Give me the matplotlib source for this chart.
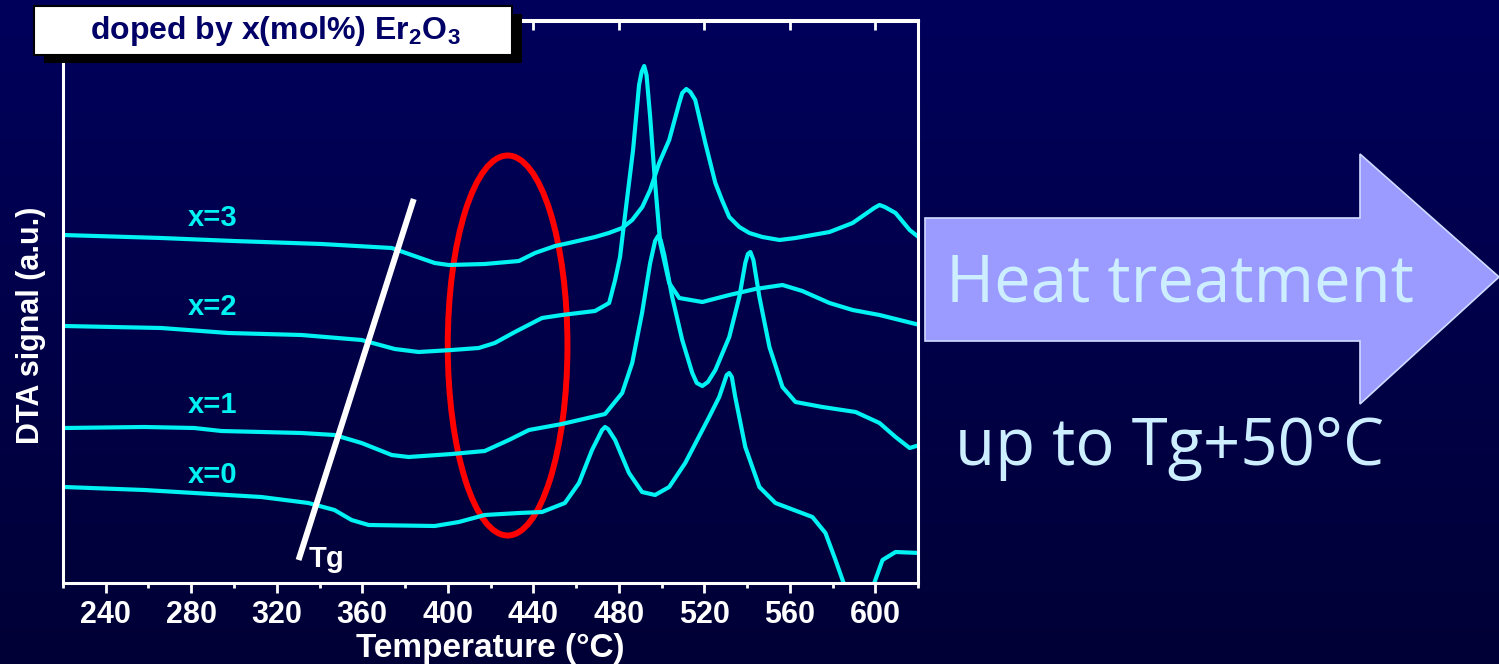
import numpy as np
import matplotlib.pyplot as plt
from matplotlib.patches import Ellipse, Polygon, Rectangle
from matplotlib.ticker import MultipleLocator

plt.rcParams["font.family"] = ["Liberation Sans", "DejaVu Sans"]
plt.rcParams["mathtext.fontset"] = "custom"
plt.rcParams["mathtext.rm"] = "Liberation Sans:bold"
plt.rcParams["mathtext.default"] = "rm"

# DTA traces: temperature (°C) vs signal (a.u., traces offset vertically)
temp_x0 = [220.5, 258.0, 281.4, 312.8, 334.8, 347.0, 355.0, 363.0, 393.9, 405.2,
           417.3, 433.3, 444.1, 454.8, 461.4, 467.5, 472.2, 473.6, 475.0, 478.3,
           484.8, 490.9, 497.0, 503.6, 511.1, 522.3, 527.0, 530.5, 531.7, 532.9,
           534.5, 539.2, 545.8, 553.3, 570.6, 576.7, 581.4, 584.7, 592.0, 599.7,
           603.4, 609.5, 620.8]
dta_x0 = [9.6, 9.3, 9.0, 8.6, 8.0, 7.3, 6.3, 5.8, 5.7, 6.1,
          6.8, 7.0, 7.1, 8.0, 10.0, 13.3, 15.3, 15.6, 15.4, 14.3,
          11.0, 9.1, 8.8, 9.6, 12.0, 16.6, 18.6, 20.8, 21.0, 20.6,
          18.6, 13.6, 9.6, 8.0, 6.6, 5.0, 2.3, 0.3, -4.0, 0.1,
          2.3, 3.1, 3.0]

temp_x1 = [220.5, 258.0, 281.4, 294.1, 331.6, 347.0, 359.7, 373.8, 381.7, 401.9,
           417.3, 428.6, 438.0, 453.4, 473.6, 481.6, 486.3, 490.9, 494.7, 497.0,
           498.4, 499.6, 501.3, 505.0, 509.7, 514.4, 516.5, 519.1, 521.7, 525.2,
           531.7, 536.4, 539.2, 540.4, 541.6, 543.0, 545.8, 550.5, 556.6, 562.7,
           575.3, 590.8, 602.0, 609.5, 616.1, 620.8]
dta_x1 = [15.5, 15.6, 15.5, 15.2, 15.0, 14.8, 14.0, 12.8, 12.6, 12.9,
          13.2, 14.3, 15.3, 15.9, 16.9, 19.0, 22.0, 27.0, 32.0, 34.2,
          34.7, 34.3, 32.8, 28.6, 24.3, 21.0, 20.0, 19.7, 20.1, 21.3,
          24.6, 28.6, 32.0, 32.9, 33.1, 32.3, 28.6, 23.6, 19.6, 18.1,
          17.6, 17.1, 16.0, 14.6, 13.5, 13.8]

temp_x2 = [220.5, 265.9, 297.3, 331.6, 359.7, 375.2, 386.4, 401.9, 414.5, 422.0,
           431.4, 444.1, 453.4, 468.9, 475.5, 478.3, 480.6, 482.5, 484.8, 486.7,
           489.5, 490.7, 491.9, 493.0, 494.7, 497.0, 499.4, 503.6, 508.3, 519.1,
           531.7, 543.9, 556.6, 565.9, 578.6, 589.4, 602.0, 620.8]
dta_x2 = [25.7, 25.5, 25.0, 24.8, 24.3, 23.4, 23.1, 23.3, 23.5, 24.0,
          25.1, 26.5, 26.8, 27.2, 28.0, 30.3, 32.6, 36.0, 40.0, 43.3,
          49.8, 51.1, 51.7, 50.8, 46.6, 40.0, 34.0, 30.0, 28.5, 28.1,
          28.8, 29.4, 29.8, 29.2, 28.0, 27.3, 26.8, 25.8]

temp_x3 = [220.0, 265.9, 300.0, 340.9, 373.8, 383.1, 393.9, 400.5, 417.3, 433.3,
           440.8, 450.2, 456.7, 468.9, 475.3, 481.6, 486.3, 491.0, 494.7, 498.9,
           503.6, 508.3, 509.7, 511.6, 513.5, 515.8, 520.5, 525.2, 528.3, 531.7,
           536.4, 541.1, 547.2, 555.2, 562.7, 578.6, 589.4, 599.5, 602.0, 604.5,
           609.5, 616.1, 620.8]
dta_x3 = [34.8, 34.5, 34.2, 33.9, 33.5, 32.8, 32.0, 31.8, 31.9, 32.2,
          33.0, 33.7, 34.0, 34.6, 35.0, 35.5, 36.3, 37.6, 39.3, 42.0,
          44.3, 48.0, 49.0, 49.4, 49.1, 48.3, 44.0, 40.0, 38.3, 36.6,
          35.6, 35.0, 34.6, 34.3, 34.5, 35.1, 36.0, 37.5, 37.8, 37.6,
          37.0, 35.3, 34.5]

sample_labels = ["x=0", "x=1", "x=2", "x=3"]
label_temp = 290.0
label_signal = [10.8, 17.8, 27.6, 36.5]

# glass transition guide line and highlighted region
tg_temp = [330.2, 384.1]
tg_signal = [2.3, 38.4]
region_center = (428.0, 23.75)
region_width = 56.0
region_height = 38.0

CYAN = "#00F2F2"
W, H = 1499, 664


def fx(px):
    return px / W


def fy(py):
    return 1 - py / H


fig = plt.figure(figsize=(W / 100, H / 100), dpi=100)

# navy gradient background
bg = fig.add_axes([0, 0, 1, 1], zorder=-10)
grad = np.linspace(0, 1, 256)[:, None]
top = np.array([0x00, 0x00, 0x5C]) / 255
bot = np.array([0x00, 0x00, 0x36]) / 255
img = top[None, None, :] * (1 - grad[..., None]) + bot[None, None, :] * grad[..., None]
bg.imshow(img, aspect="auto", extent=[0, 1, 0, 1])
bg.axis("off")

ax = fig.add_axes([fx(63), fy(583), fx(918) - fx(63), fy(20.5) - fy(583)])
ax.patch.set_alpha(0)

for t, s in [(temp_x0, dta_x0), (temp_x1, dta_x1), (temp_x2, dta_x2), (temp_x3, dta_x3)]:
    ax.plot(t, s, color=CYAN, lw=3.0, solid_joinstyle="round", solid_capstyle="round")

for lab, y in zip(sample_labels, label_signal):
    ax.text(label_temp, y, lab, color=CYAN, fontsize=21, fontweight="bold",
            ha="center", va="center")

ax.plot(tg_temp, tg_signal, color="white", lw=4.3, solid_capstyle="butt")
ax.text(334.8, 1.6, "Tg", color="white", fontsize=21, fontweight="bold",
        ha="left", va="baseline")

ax.add_patch(Ellipse(region_center, region_width, region_height,
                     fill=False, edgecolor="#FF0000", lw=4.3))

ax.set_xlim(220, 620)
ax.set_ylim(0, 56.25)
ax.set_yticks([])
ax.xaxis.set_major_locator(MultipleLocator(40))
ax.xaxis.set_minor_locator(MultipleLocator(20))
ax.tick_params(axis="x", which="major", direction="out", length=7.5, width=2,
               color="white", labelcolor="white", labelsize=22, pad=5)
ax.tick_params(axis="x", which="minor", direction="out", length=3.5, width=2,
               color="white")
for lbl in ax.get_xticklabels():
    lbl.set_fontweight("bold")
for sp in ax.spines.values():
    sp.set_color("white")
    sp.set_linewidth(2.2)

top_ax = ax.secondary_xaxis("top")
top_ax.xaxis.set_major_locator(MultipleLocator(40))
top_ax.tick_params(axis="x", which="major", direction="in", length=7.5, width=2,
                   color="white", labeltop=False)
top_ax.spines["top"].set_color("white")
top_ax.spines["top"].set_linewidth(2.2)

ax.set_xlabel("Temperature (°C)", color="white", fontsize=24, fontweight="bold",
              labelpad=2)
fig.text(fx(31), fy(325), "DTA signal (a.u.)", color="white", fontsize=22,
         fontweight="bold", rotation=90, ha="center", va="center")

# title box with drop shadow
fig.add_artist(Rectangle((fx(44), fy(63)), fx(478), fy(6) - fy(55),
                         transform=fig.transFigure, facecolor="black",
                         edgecolor="none", zorder=20))
fig.add_artist(Rectangle((fx(34), fy(55)), fx(478), fy(6) - fy(55),
                         transform=fig.transFigure, facecolor="white",
                         edgecolor="black", lw=1.5, zorder=21))
fig.text(fx(275), fy(31), r"doped by x(mol%) Er$_2$O$_3$", color="#000066",
         fontsize=23, fontweight="bold", ha="center", va="center", zorder=22)

# heat treatment arrow
arrow_px = [(925, 218), (1360, 218), (1360, 154), (1499, 277),
            (1360, 404), (1360, 341), (925, 341)]
fig.add_artist(Polygon([(fx(x), fy(y)) for x, y in arrow_px], closed=True,
                       transform=fig.transFigure, facecolor="#9A9AFF",
                       edgecolor="#D0DCFF", lw=1.2, zorder=5))
fig.text(fx(1180), fy(302), "Heat treatment", color="#CCEEFF", fontsize=47,
         family=["Open Sans", "DejaVu Sans"], ha="center", va="baseline", zorder=6)
fig.text(fx(1170), fy(465), "up to Tg+50°C", color="#CCEEFF", fontsize=47,
         family=["Open Sans", "DejaVu Sans"], ha="center", va="baseline", zorder=6)

fig.savefig("out.png", dpi=100)
